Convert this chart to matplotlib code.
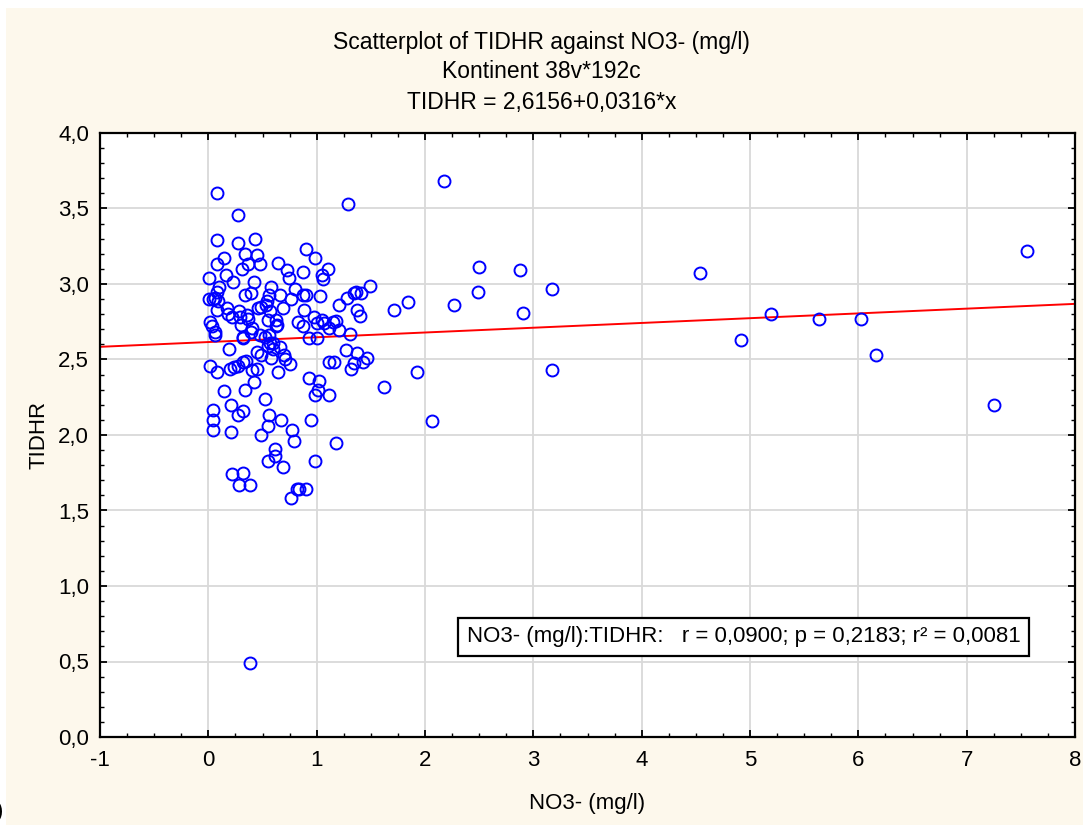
import matplotlib
matplotlib.use("Agg")
import matplotlib.pyplot as plt
from matplotlib.patches import Rectangle
from matplotlib.ticker import MultipleLocator, FuncFormatter

plt.rcParams['font.family'] = ['Liberation Sans', 'DejaVu Sans']

# NO3- (mg/l) vs TIDHR
no3 = [
    # x > 1.5
    1.62, 1.71, 1.84, 1.93, 2.06, 2.175, 2.27, 2.49, 2.495, 2.88, 2.90, 3.17, 3.17,
    4.54, 4.92, 5.19, 5.64, 6.02, 6.16, 7.25, 7.56,
    # top part of the cluster
    0.08, 0.275, 0.08, 0.275, 0.435, 0.34, 0.45, 0.146, 0.08, 0.37, 0.48, 0.31,
    0.645, 0.725, 0.74, 0.16, 0.01, 0.226, 0.42, 0.10, 0.58, 0.076, 0.334, 0.39,
    0.66, 0.80, 0.007, 0.04, 0.06, 0.09, 0.556, 0.54, 0.53, 0.765, 0.076, 0.17,
    0.177, 0.46, 0.485, 0.69, 0.223, 0.28, 0.29, 0.36, 0.37, 0.57, 0.547, 0.62,
    0.014, 0.03, 0.066, 0.30, 0.40, 0.39, 0.63, 0.62, 0.32, 0.48, 0.52, 0.556,
    1.29, 0.90, 0.98, 1.10, 0.87, 1.05, 1.06, 0.875, 0.905, 1.03, 1.49, 1.405,
    1.36, 1.34, 1.28, 1.21, 1.37, 1.40, 0.885, 0.83, 0.87, 0.975, 1.00, 1.045,
    1.07, 1.115, 1.15, 1.18, 1.21, 1.31, 0.93, 1.00,
    # lower part of the cluster
    0.19, 0.014, 0.08, 0.20, 0.24, 0.275, 0.32, 0.345, 0.40, 0.45, 0.445, 0.49,
    0.55, 0.58, 0.60, 0.645, 0.66, 0.70, 0.71, 0.75, 0.42, 0.34, 0.143, 0.52,
    0.21, 0.044, 0.044, 0.044, 0.32, 0.275, 0.21, 0.56, 0.547, 0.485, 0.675, 0.77,
    0.79, 0.614, 0.614, 0.547, 0.69, 0.223, 0.32, 0.284, 0.383, 0.76, 0.82,
    1.27, 1.37, 1.46, 1.43, 1.34, 1.32, 1.11, 1.16, 0.93, 1.02, 1.015, 0.98,
    1.11, 0.946, 1.175, 0.98, 0.84, 0.90, 0.57, 0.60, 0.06, 0.32,
    0.383,
]
tidhr = [
    2.32, 2.83, 2.88, 2.42, 2.09, 3.68, 2.86, 2.95, 3.11, 3.09, 2.81, 2.965, 2.43,
    3.07, 2.63, 2.80, 2.77, 2.77, 2.53, 2.20, 3.22,
    3.60, 3.46, 3.29, 3.27, 3.30, 3.20, 3.19, 3.17, 3.13, 3.13, 3.13, 3.10,
    3.14, 3.09, 3.04, 3.06, 3.04, 3.01, 3.01, 2.98, 2.98, 2.945, 2.93, 2.94,
    2.93, 2.965, 2.90, 2.90, 2.91, 2.89, 2.93, 2.89, 2.86, 2.90, 2.83, 2.84,
    2.80, 2.84, 2.85, 2.84, 2.78, 2.82, 2.78, 2.795, 2.77, 2.82, 2.76, 2.76,
    2.75, 2.72, 2.68, 2.73, 2.71, 2.68, 2.73, 2.72, 2.65, 2.66, 2.65, 2.66,
    3.53, 3.23, 3.17, 3.10, 3.08, 3.06, 3.03, 2.93, 2.93, 2.92, 2.99, 2.94,
    2.95, 2.94, 2.905, 2.86, 2.83, 2.79, 2.83, 2.75, 2.72, 2.78, 2.74, 2.76,
    2.74, 2.71, 2.75, 2.755, 2.695, 2.67, 2.64, 2.64,
    2.57, 2.46, 2.42, 2.44, 2.45, 2.46, 2.485, 2.49, 2.43, 2.435, 2.55, 2.53,
    2.59, 2.51, 2.57, 2.42, 2.58, 2.53, 2.50, 2.47, 2.35, 2.30, 2.29, 2.24,
    2.20, 2.165, 2.10, 2.03, 2.16, 2.13, 2.02, 2.13, 2.06, 2.00, 2.10, 2.03,
    1.96, 1.91, 1.86, 1.83, 1.79, 1.745, 1.75, 1.67, 1.67, 1.58, 1.64,
    2.56, 2.54, 2.51, 2.485, 2.48, 2.44, 2.485, 2.485, 2.375, 2.36, 2.30, 2.265,
    2.265, 2.10, 1.95, 1.83, 1.64, 1.64, 2.61, 2.61, 2.66, 2.64,
    0.49,
]

intercept = 2.6156
slope = 0.0316
x_range = [-1, 8]

cream = '#fdf8ec'
fig = plt.figure(figsize=(10.83, 8.25), dpi=100, facecolor='white')
fig.patches.append(Rectangle((6 / 1083, 0), 1, (825 - 8) / 825,
                             transform=fig.transFigure, facecolor=cream,
                             edgecolor='none', zorder=-10))

ax = fig.add_axes([100 / 1083, 88 / 825, 975 / 1083, 604 / 825])
ax.set_facecolor('white')

ax.plot(no3, tidhr, 'o', markerfacecolor='none', markeredgecolor='#0000ff',
        markersize=8.6, markeredgewidth=1.4, zorder=3)
ax.plot(x_range, [intercept + slope * v for v in x_range], color='#ff0000',
        linewidth=1.4, zorder=2)

ax.set_xlim(-1, 8)
ax.set_ylim(0, 4)
ax.xaxis.set_major_locator(MultipleLocator(1))
ax.xaxis.set_minor_locator(MultipleLocator(0.25))
ax.yaxis.set_major_locator(MultipleLocator(0.5))
ax.yaxis.set_minor_locator(MultipleLocator(0.1))
ax.yaxis.set_major_formatter(FuncFormatter(lambda v, p: f'{v:.1f}'.replace('.', ',')))
ax.xaxis.set_major_formatter(FuncFormatter(lambda v, p: f'{v:.0f}'))

ax.tick_params(which='both', direction='in', top=True, right=True,
               labelsize=16, colors='black')
ax.tick_params(axis='y', pad=8)
ax.tick_params(axis='x', pad=9)
ax.tick_params(which='major', length=5, width=1.3)
ax.tick_params(which='minor', length=3, width=1.0)
ax.grid(True, which='major', color='#d9d9d9', linewidth=1.3)
ax.set_axisbelow(True)
for sp in ax.spines.values():
    sp.set_linewidth(1.6)
    sp.set_color('black')

ax.set_xlabel('NO3- (mg/l)', fontsize=16, labelpad=16)
ax.set_ylabel('TIDHR', fontsize=16, labelpad=6)

fig.text(0.5, 1 - 42 / 825, 'Scatterplot of TIDHR against NO3- (mg/l)',
         ha='center', va='center', fontsize=16.5)
fig.text(0.5, 1 - 72 / 825, 'Kontinent 38v*192c', ha='center', va='center', fontsize=16.5)
fig.text(0.5, 1 - 103 / 825, 'TIDHR = 2,6156+0,0316*x', ha='center', va='center', fontsize=16.5)

ax.text(0.944, 0.1656, 'NO3- (mg/l):TIDHR:   r = 0,0900; p = 0,2183; r\u00b2 = 0,0081',
        transform=ax.transAxes, ha='right', va='center', fontsize=16,
        bbox=dict(boxstyle='square,pad=0.4', facecolor='white',
                  edgecolor='black', linewidth=1.6), zorder=5)

fig.text(0.0, 14 / 825, ')', ha='center', va='center', fontsize=16)

fig.savefig('out.png', dpi=100, facecolor=fig.get_facecolor())
